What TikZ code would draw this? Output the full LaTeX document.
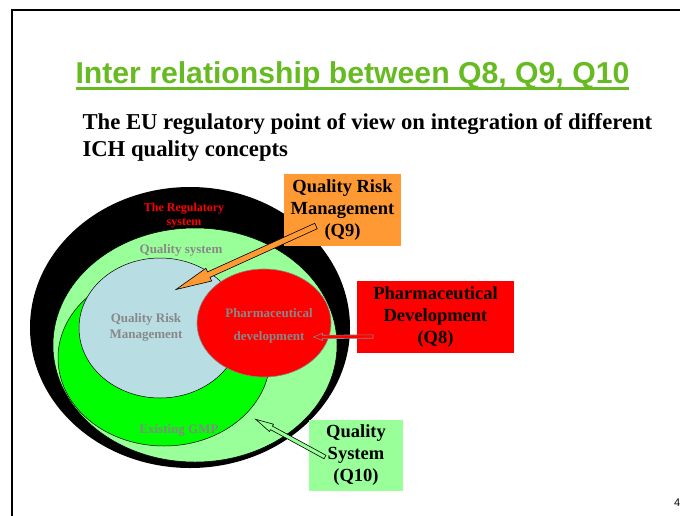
\documentclass[tikz,border=0pt]{standalone}
\usepackage{fontspec}
\setmainfont{Liberation Serif}
\newfontfamily\arialfont{Liberation Sans}
\usetikzlibrary{calc,shapes.geometric}
\definecolor{titlegreen}{RGB}{102,187,34}
\definecolor{lightgreen}{RGB}{153,255,153}
\definecolor{brightgreen}{RGB}{0,255,0}
\definecolor{paleblue}{RGB}{184,222,228}
\definecolor{orangebox}{RGB}{255,153,51}
\definecolor{redbox}{RGB}{255,0,0}
\definecolor{textgray}{RGB}{136,136,136}
\newcommand\blockarrow[6]{% style, tail, tip, shaft half, head half, head length
  \coordinate (ba-H) at ($(#3)!#6!(#2)$);
  \draw[#1] ($(#2)!#4!90:(#3)$) -- ($(ba-H)!#4!-90:(#2)$) -- ($(ba-H)!#5!-90:(#2)$) -- (#3)
    -- ($(ba-H)!#5!90:(#2)$) -- ($(ba-H)!#4!90:(#2)$) -- ($(#2)!#4!-90:(#3)$) -- cycle;
}
\begin{document}
\begin{tikzpicture}[x=1pt,y=-1pt,
  every node/.style={inner sep=0pt,outer sep=0pt},
  oval/.style={ellipse,draw,line width=0.5pt},
  intext/.style={font=\bfseries\fontsize{13}{15.5}\selectfont,text=textgray,align=center},
  redtext/.style={font=\bfseries\fontsize{12}{14}\selectfont,text=redbox,align=center},
  boxtext/.style={font=\bfseries\fontsize{18.5}{22}\selectfont,align=center},
  subtext/.style={font=\bfseries\fontsize{22.7}{27}\selectfont,anchor=base west}]
\useasboundingbox (0,0) rectangle (680,515);
\clip (0,0) rectangle (680,515);
\fill[white] (0,0) rectangle (680,515);
% frame
\draw[line width=2.5pt] (12,10) rectangle (700,540);
% title
\node[anchor=base west,text=titlegreen,font=\arialfont\bfseries\fontsize{30.2}{34}\selectfont] (title) at (75.5,83.5) {Inter relationship between Q8, Q9, Q10};
\draw[titlegreen,line width=2.2pt] ([yshift=-5pt]title.base west) -- ([yshift=-5pt]title.base east);
\node[subtext] (sub1) at (82.5,129.5) {The EU regulatory point of view on integration of different};
\node[subtext] (sub2) at (82.5,156.5) {ICH quality concepts};
% ellipses
\node[ellipse,fill=black,minimum width=320pt,minimum height=281pt] (regsys) at (190,327.5) {};
\node[oval,fill=lightgreen,minimum width=284pt,minimum height=234pt] (qualsys) at (195,345) {};
\node[oval,fill=brightgreen,minimum width=212pt,minimum height=176pt] (gmp) at (164,358) {};
\node[oval,fill=paleblue,minimum width=162pt,minimum height=140pt] (qrm) at (160,328) {};
\node[ellipse,draw=textgray,line width=0.6pt,fill=redbox,minimum width=134pt,minimum height=108pt] (pd) at (264,323) {};
% inner texts
\node[redtext] (t-reg) at (184,216) {The Regulatory\\system};
\node[intext] (t-qs) at (181,250) {Quality system};
\node[intext] (t-qrm) at (146,327.5) {Quality Risk\\Management};
\node[intext] (t-pd1) at (269,313) {Pharmaceutical};
\node[intext] (t-pd2) at (269,337) {development};
\node[intext] (t-gmp) at (179,430) {Existing GMP};
% boxes
\node[boxtext,fill=orangebox,minimum width=117pt,minimum height=72pt] (q9) at (342.5,210) {Quality Risk\\Management\\(Q9)};
\node[boxtext,fill=redbox,minimum width=157pt,minimum height=72pt] (q8) at (435.5,317) {Pharmaceutical\\Development\\(Q8)};
\node[boxtext,fill=lightgreen,minimum width=94pt,minimum height=71pt] (q10) at (356,455.5) {Quality\\System\\(Q10)};
% arrow ends
\coordinate (q9tail) at (316,226);
\coordinate (q9tip) at (176,289.5);
\coordinate (q8tail) at (373,336.5);
\coordinate (q8tip) at (313.5,337);
\coordinate (q10tail) at (325,457);
\coordinate (q10tip) at (255.7,419.3);
\blockarrow{fill=orangebox,draw=black,line width=0.6pt}{q9tail}{q9tip}{3pt}{7pt}{36pt}
\blockarrow{fill=redbox,draw=textgray,line width=0.6pt}{q8tail}{q8tip}{1.7pt}{3.6pt}{9pt}
\blockarrow{fill=lightgreen,draw=black,line width=0.6pt}{q10tail}{q10tip}{2pt}{4.2pt}{18pt}
% page number
\node[anchor=base west,font=\arialfont\fontsize{11}{13}\selectfont] (pagenum) at (674,506) {4};
\end{tikzpicture}
\end{document}
